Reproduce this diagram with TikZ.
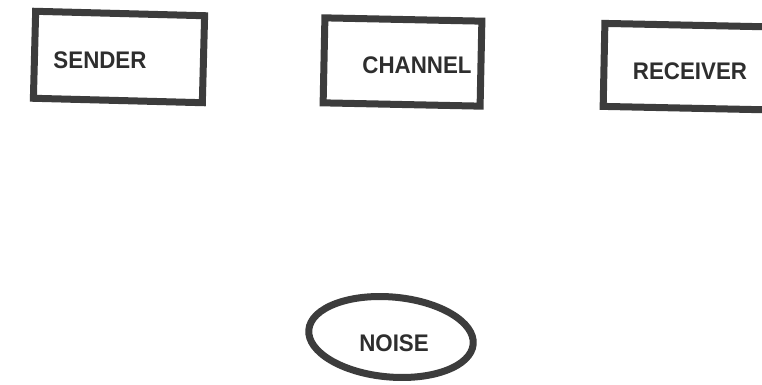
\documentclass[tikz,border=0pt]{standalone}
\usepackage{fontspec}
\setmainfont{Liberation Sans}
\usetikzlibrary{shapes.geometric}
\definecolor{ink}{HTML}{3C3C3C}
\definecolor{txt}{HTML}{2E2E2E}
\newcommand{\tag}[1]{\scalebox{0.93}[1]{#1}}
\begin{document}
\begin{tikzpicture}[x=1pt,y=-1pt,
  frame/.style={draw=ink, line width=7pt, line join=miter, inner sep=0pt, outer sep=0pt},
  label/.style={text=txt, font=\bfseries\fontsize{24}{26}\selectfont, inner sep=0pt}]
  \useasboundingbox (0,0) rectangle (762,385);
  \clip (0,0) rectangle (762,385);
  \fill[white] (0,0) rectangle (762,385);

  % boxes
  \node[frame, rectangle, minimum width=169pt, minimum height=87pt, rotate=-1.5] (senderbox) at (119,57) {};
  \node[frame, rectangle, minimum width=157pt, minimum height=85pt, rotate=-1.2] (channelbox) at (402.5,62) {};
  \node[frame, rectangle, minimum width=200pt, minimum height=83pt, rotate=-1.2] (receiverbox) at (704,67) {};
  \node[frame, ellipse, minimum width=165pt, minimum height=80pt, rotate=-5] (noiseellipse) at (391,337) {};

  % labels
  \node[label] (sender) at (100,60) {\tag{SENDER}};
  \node[label] (channel) at (417,65) {\tag{CHANNEL}};
  \node[label] (receiver) at (690,71) {\tag{RECEIVER}};
  \node[label] (noise) at (394,343) {\tag{NOISE}};
\end{tikzpicture}
\end{document}
